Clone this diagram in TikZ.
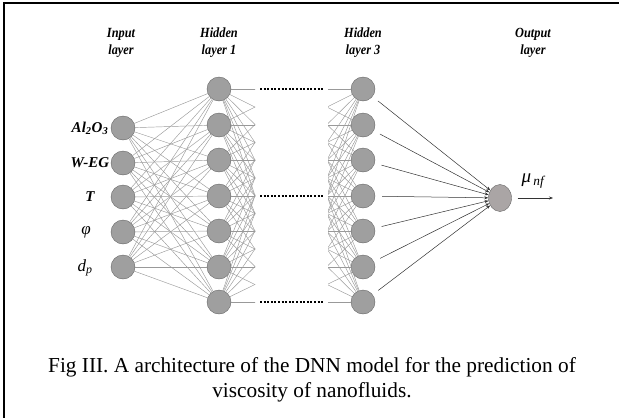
\documentclass[tikz,border=0pt]{standalone}
\usepackage{fontspec}
\setmainfont{Liberation Serif}
\usetikzlibrary{arrows.meta,shapes.geometric}
\tikzset{
  neuron/.style={
    circle,
    draw=gray!80!black,
    fill=gray!75,
    minimum size=24pt,
    inner sep=0,
  },
  outneuron/.style={
    ellipse,
    draw=gray!80!black,
    fill=outgrey,
    minimum width=23pt,
    minimum height=27pt,
    inner sep=0,
  },
  layertitle/.style={
    font=\fontsize{14}{17}\selectfont\bfseries\itshape,
    align=center,
    xscale=.88,
  },
  inlabel/.style={
    font=\fontsize{15}{17}\selectfont\bfseries\itshape,
  },
  mathlabel/.style={
    font=\fontsize{17}{19}\selectfont\itshape,
  },
  synapse/.style={
    draw=gray!80,
    line width=.45pt,
  },
  gap/.style={
    line width=2.4pt,
    dash pattern=on 2pt off 1.6pt,
  },
  feed/.style={
    -{Stealth[length=4pt,width=3pt]},
    draw=gray!40!black,
    line width=.5pt,
  }
}
\definecolor{outgrey}{RGB}{170,165,165}

\begin{document}
\begin{tikzpicture}[x=1pt,y=-1pt]
    \useasboundingbox (0,0) rectangle (619,418);
    % frame
    \draw[line width=2pt] (4,418) -- (4,3) -- (619,3);

    % titles
    \node[layertitle] (tin) at (121,43) {Input\\layer};
    \node[layertitle] (th1) at (219,43) {Hidden\\layer 1};
    \node[layertitle] (th3) at (363,43) {Hidden\\layer 3};
    \node[layertitle] (tout) at (533,43) {Output\\layer};

    % input layer
    \node[neuron] (i1) at (123,128) {};
    \node[neuron] (i2) at (123,163) {};
    \node[neuron] (i3) at (123,197) {};
    \node[neuron] (i4) at (123,232) {};
    \node[neuron] (i5) at (123,267) {};

    \node[inlabel] (l1) at (90,128) {Al\textsubscript{2}O\textsubscript{3}};
    \node[inlabel] (l2) at (90,163) {W-EG};
    \node[inlabel] (l3) at (90,197) {T};
    \node[mathlabel] (l4) at (86,232) {φ};
    \node[mathlabel] (l5) at (85,268) {d\textsubscript{p}};

    % hidden layers
    \foreach \k/\y in {1/89,2/125,3/160,4/196,5/231,6/267,7/302} {
      \node[neuron] (a\k) at (219,\y) {};
      \node[neuron] (c\k) at (363,\y) {};
      \coordinate (b\k) at (291,\y);
    }

    % output layer
    \node[outneuron] (o) at (500,198) {};
    \coordinate (oend) at (553,198);
    \node[font=\fontsize{19}{21}\selectfont\itshape] (mu) at (533,181) {μ\textsubscript{\,nf}};

    % input to hidden layer 1
    \foreach \i in {1,...,5}
      \foreach \k in {1,...,7}
        \draw[synapse] (i\i) -- (a\k);

    % cut connections around the gap
    \begin{scope}
      \clip (219,60) rectangle (255,320);
      \foreach \k in {1,...,7}
        \foreach \m in {1,...,7}
          \draw[synapse] (a\k) -- (b\m);
    \end{scope}
    \begin{scope}
      \clip (328,60) rectangle (363,320);
      \foreach \k in {1,...,7}
        \foreach \m in {1,...,7}
          \draw[synapse] (b\m) -- (c\k);
    \end{scope}

    % dots between layers
    \coordinate (g1) at (260,89);
    \coordinate (g2) at (324,89);
    \coordinate (g3) at (260,196);
    \coordinate (g4) at (324,196);
    \coordinate (g5) at (260,302);
    \coordinate (g6) at (324,302);
    \draw[gap] (g1) -- (g2);
    \draw[gap] (g3) -- (g4);
    \draw[gap] (g5) -- (g6);

    % hidden layer 3 to output
    \foreach \k in {1,...,7}
      \draw[feed,shorten <=7pt] (c\k) -- (o);
    \draw[feed,shorten <=6pt] (o) -- (oend);

    % caption
    \node[font=\fontsize{21.3}{25}\selectfont,align=center] (cap) at (312,380)
      {Fig III. A architecture of the DNN model for the prediction of\\viscosity of nanofluids.};
  \end{tikzpicture}
\end{document}
